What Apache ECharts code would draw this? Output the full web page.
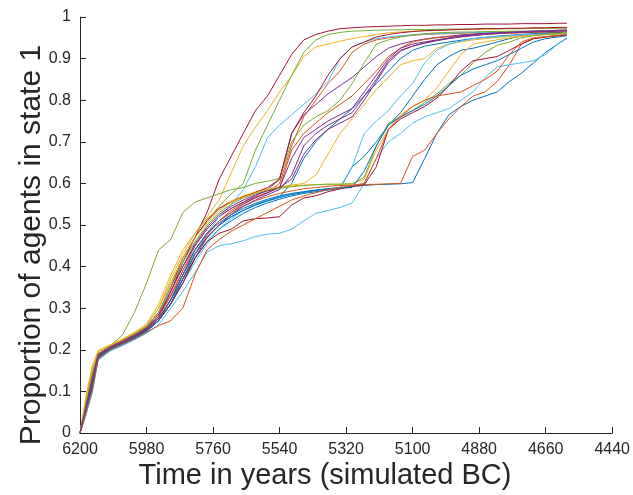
<!DOCTYPE html>
<html>
<head>
<meta charset="utf-8">
<script src="https://cdn.jsdelivr.net/npm/echarts@6/dist/echarts.min.js"></script>
<style>
html,body{margin:0;padding:0;background:#fff;}
#chart{width:633px;height:495px;}
</style>
</head>
<body>
<div id="chart"></div>
<script>
// Shared time axis (years BC)
const years = [6200,6180,6160,6140,6100,6060,6020,5980,5940,5900,5860,5820,5780,5740,5700,5660,5620,5580,5540,5500,5460,5420,5380,5340,5300,5260,5220,5180,5140,5100,5060,5020,4980,4940,4900,4860,4820,4780,4740,4700,4660,4620,4590];
const xTicks = [6200,5980,5760,5540,5320,5100,4880,4660,4440];

// Runs (proportion of agents in state 1)
const runB1 = [0,0.05,0.11,0.18,0.2,0.213,0.228,0.245,0.27,0.31,0.37,0.43,0.47,0.5,0.52,0.535,0.548,0.558,0.568,0.6,0.66,0.7,0.73,0.755,0.78,0.81,0.84,0.87,0.9,0.92,0.93,0.935,0.94,0.944,0.948,0.951,0.954,0.956,0.958,0.96,0.962,0.963,0.964];
const runO1 = [0,0.07,0.14,0.19,0.208,0.22,0.235,0.252,0.28,0.33,0.39,0.45,0.49,0.52,0.54,0.555,0.567,0.578,0.6,0.69,0.76,0.8,0.84,0.87,0.915,0.935,0.945,0.95,0.953,0.956,0.958,0.959,0.96,0.961,0.962,0.962,0.963,0.963,0.964,0.964,0.965,0.965,0.966];
const runY1 = [0,0.09,0.16,0.198,0.212,0.226,0.242,0.262,0.31,0.38,0.44,0.48,0.52,0.56,0.625,0.69,0.735,0.775,0.82,0.858,0.905,0.928,0.935,0.942,0.948,0.953,0.958,0.962,0.964,0.966,0.967,0.968,0.969,0.97,0.97,0.971,0.971,0.972,0.972,0.973,0.973,0.974,0.974];
const runP1 = [0,0.06,0.12,0.185,0.207,0.22,0.234,0.25,0.28,0.34,0.4,0.45,0.49,0.52,0.54,0.555,0.57,0.585,0.61,0.72,0.765,0.79,0.815,0.835,0.855,0.88,0.905,0.925,0.935,0.942,0.947,0.951,0.954,0.957,0.959,0.961,0.963,0.964,0.965,0.966,0.967,0.968,0.968];
const runG1 = [0,0.07,0.14,0.19,0.208,0.222,0.238,0.258,0.3,0.36,0.42,0.47,0.51,0.545,0.575,0.6,0.68,0.74,0.8,0.86,0.915,0.945,0.958,0.963,0.966,0.967,0.968,0.969,0.969,0.97,0.97,0.97,0.971,0.971,0.971,0.972,0.972,0.972,0.972,0.973,0.973,0.973,0.973];
const runC1 = [0,0.05,0.11,0.18,0.202,0.215,0.23,0.248,0.27,0.31,0.37,0.43,0.48,0.52,0.55,0.585,0.64,0.71,0.74,0.765,0.79,0.815,0.845,0.9,0.928,0.94,0.948,0.952,0.955,0.957,0.959,0.96,0.961,0.962,0.963,0.963,0.964,0.964,0.965,0.965,0.966,0.966,0.966];
const runR1 = [0,0.06,0.13,0.19,0.21,0.222,0.236,0.255,0.29,0.35,0.42,0.47,0.53,0.61,0.665,0.72,0.775,0.81,0.86,0.91,0.945,0.958,0.966,0.972,0.974,0.976,0.977,0.978,0.979,0.98,0.98,0.981,0.981,0.982,0.982,0.983,0.983,0.983,0.984,0.984,0.984,0.985,0.985];
const runB2 = [0,0.045,0.1,0.178,0.199,0.212,0.226,0.243,0.27,0.31,0.36,0.42,0.46,0.49,0.51,0.528,0.542,0.553,0.562,0.57,0.576,0.58,0.584,0.588,0.64,0.665,0.7,0.74,0.77,0.81,0.85,0.885,0.905,0.92,0.925,0.932,0.94,0.948,0.955,0.958,0.96,0.962,0.964];
const runO2 = [0,0.065,0.13,0.188,0.207,0.22,0.234,0.252,0.28,0.33,0.38,0.43,0.475,0.51,0.535,0.552,0.566,0.578,0.59,0.68,0.72,0.745,0.77,0.79,0.81,0.84,0.87,0.905,0.925,0.94,0.946,0.95,0.953,0.955,0.957,0.959,0.96,0.961,0.962,0.963,0.964,0.964,0.965];
const runY2 = [0,0.08,0.15,0.195,0.21,0.224,0.24,0.258,0.3,0.37,0.43,0.48,0.515,0.54,0.558,0.57,0.58,0.587,0.592,0.596,0.6,0.62,0.67,0.72,0.755,0.79,0.825,0.855,0.885,0.895,0.9,0.925,0.935,0.94,0.945,0.948,0.951,0.953,0.955,0.957,0.958,0.959,0.96];
const runP2 = [0,0.055,0.115,0.183,0.205,0.218,0.232,0.25,0.275,0.32,0.38,0.44,0.48,0.51,0.53,0.55,0.565,0.577,0.59,0.66,0.71,0.73,0.75,0.765,0.78,0.82,0.86,0.9,0.925,0.935,0.94,0.945,0.95,0.955,0.958,0.96,0.962,0.963,0.964,0.965,0.966,0.967,0.967];
const runG2 = [0,0.06,0.12,0.188,0.21,0.235,0.29,0.36,0.44,0.465,0.53,0.555,0.565,0.575,0.585,0.59,0.6,0.605,0.612,0.7,0.74,0.76,0.775,0.8,0.84,0.89,0.935,0.945,0.952,0.957,0.96,0.962,0.963,0.964,0.964,0.965,0.965,0.966,0.966,0.966,0.967,0.967,0.967];
const runC2 = [0,0.05,0.1,0.178,0.2,0.213,0.228,0.246,0.27,0.31,0.36,0.41,0.455,0.49,0.515,0.535,0.55,0.56,0.568,0.575,0.58,0.584,0.587,0.59,0.64,0.72,0.75,0.775,0.81,0.84,0.89,0.92,0.935,0.942,0.948,0.951,0.953,0.955,0.957,0.958,0.959,0.96,0.961];
const runR2 = [0,0.06,0.12,0.186,0.206,0.219,0.233,0.25,0.28,0.34,0.41,0.47,0.51,0.54,0.555,0.568,0.578,0.59,0.61,0.72,0.77,0.81,0.86,0.9,0.928,0.94,0.952,0.958,0.962,0.965,0.967,0.968,0.969,0.97,0.971,0.972,0.972,0.973,0.973,0.974,0.974,0.975,0.975];
const runB3 = [0,0.05,0.105,0.18,0.2,0.214,0.228,0.245,0.27,0.31,0.37,0.43,0.47,0.5,0.52,0.535,0.548,0.558,0.566,0.573,0.578,0.583,0.587,0.59,0.593,0.595,0.597,0.598,0.599,0.602,0.66,0.72,0.765,0.785,0.8,0.81,0.82,0.845,0.865,0.89,0.915,0.935,0.95];
const runO3 = [0,0.06,0.12,0.185,0.205,0.218,0.233,0.25,0.28,0.33,0.39,0.44,0.48,0.51,0.53,0.545,0.558,0.568,0.576,0.582,0.587,0.59,0.593,0.595,0.596,0.597,0.598,0.599,0.6,0.665,0.68,0.72,0.755,0.785,0.81,0.82,0.845,0.885,0.935,0.948,0.952,0.955,0.957];
const runY3 = [0,0.085,0.155,0.196,0.211,0.225,0.24,0.258,0.3,0.36,0.42,0.47,0.505,0.535,0.555,0.567,0.577,0.585,0.59,0.594,0.596,0.597,0.598,0.598,0.599,0.61,0.68,0.73,0.765,0.785,0.8,0.83,0.87,0.91,0.935,0.94,0.945,0.95,0.953,0.956,0.958,0.96,0.962];
const runP3 = [0,0.06,0.12,0.185,0.206,0.219,0.233,0.25,0.275,0.32,0.37,0.42,0.47,0.5,0.525,0.545,0.56,0.573,0.585,0.62,0.69,0.72,0.74,0.755,0.77,0.81,0.85,0.895,0.92,0.93,0.937,0.943,0.948,0.952,0.955,0.958,0.96,0.962,0.963,0.964,0.965,0.966,0.967];
const runG3 = [0,0.07,0.14,0.19,0.207,0.221,0.236,0.255,0.29,0.35,0.41,0.46,0.5,0.53,0.55,0.565,0.575,0.583,0.588,0.592,0.595,0.597,0.598,0.598,0.599,0.615,0.69,0.745,0.76,0.775,0.795,0.815,0.84,0.86,0.89,0.915,0.932,0.94,0.95,0.955,0.958,0.96,0.962];
const runC3 = [0,0.045,0.095,0.175,0.197,0.21,0.224,0.24,0.26,0.3,0.34,0.385,0.435,0.45,0.455,0.462,0.472,0.478,0.48,0.49,0.51,0.528,0.535,0.542,0.553,0.6,0.66,0.7,0.72,0.745,0.76,0.77,0.78,0.8,0.82,0.855,0.88,0.885,0.89,0.895,0.91,0.935,0.948];
const runR3 = [0,0.055,0.11,0.182,0.203,0.216,0.23,0.248,0.27,0.31,0.36,0.42,0.46,0.48,0.49,0.51,0.515,0.517,0.52,0.548,0.565,0.57,0.58,0.587,0.592,0.597,0.64,0.73,0.755,0.77,0.785,0.805,0.835,0.87,0.895,0.9,0.905,0.92,0.935,0.948,0.952,0.955,0.957];
const runB4 = [0,0.055,0.11,0.182,0.202,0.215,0.229,0.246,0.27,0.32,0.38,0.44,0.48,0.505,0.525,0.54,0.552,0.562,0.57,0.576,0.58,0.584,0.587,0.589,0.59,0.63,0.69,0.74,0.76,0.775,0.79,0.81,0.835,0.86,0.875,0.885,0.895,0.91,0.925,0.94,0.948,0.952,0.955];
const runO4 = [0,0.05,0.1,0.178,0.2,0.213,0.226,0.242,0.258,0.27,0.3,0.38,0.44,0.465,0.485,0.5,0.515,0.53,0.545,0.56,0.57,0.578,0.585,0.59,0.595,0.6,0.66,0.73,0.76,0.785,0.8,0.81,0.815,0.82,0.835,0.85,0.87,0.91,0.94,0.95,0.953,0.956,0.958];
const runP4 = [0,0.065,0.13,0.188,0.207,0.22,0.235,0.252,0.285,0.34,0.4,0.455,0.495,0.525,0.545,0.56,0.572,0.582,0.59,0.61,0.67,0.705,0.73,0.745,0.76,0.8,0.845,0.89,0.918,0.93,0.938,0.944,0.949,0.953,0.956,0.959,0.961,0.963,0.965,0.966,0.967,0.968,0.969];

const BLUE='#0072BD', ORANGE='#D95319', YELLOW='#EDB120', PURPLE='#7E2F8E', GREEN='#77AC30', CYAN='#4DBEEE', RED='#A2142F';
const runs = [
  [runB1,BLUE],[runO1,ORANGE],[runY1,YELLOW],[runP1,PURPLE],[runG1,GREEN],[runC1,CYAN],[runR1,RED],
  [runB2,BLUE],[runO2,ORANGE],[runY2,YELLOW],[runP2,PURPLE],[runG2,GREEN],[runC2,CYAN],[runR2,RED],
  [runB3,BLUE],[runO3,ORANGE],[runY3,YELLOW],[runP3,PURPLE],[runG3,GREEN],[runC3,CYAN],[runR3,RED],
  [runB4,BLUE],[runO4,ORANGE],[runP4,PURPLE]
];

const FONT = '"Liberation Sans", Arial, Helvetica, sans-serif';
const AX = '#262626';

const chart = echarts.init(document.getElementById('chart'), null, {renderer:'canvas'});
chart.setOption({
  animation:false,
  backgroundColor:'#fff',
  grid:{left:80, right:15, top:17, bottom:62, containLabel:false},
  xAxis:{
    type:'value', inverse:true, min:4440, max:6200,
    axisLine:{show:true, onZero:false, lineStyle:{color:AX, width:1}},
    axisTick:{show:true, inside:true, length:6, lineStyle:{color:AX}, customValues:xTicks},
    axisLabel:{show:true, customValues:xTicks, margin:9, fontSize:16, color:AX, fontFamily:FONT, formatter:v=>String(v)},
    splitLine:{show:false}
  },
  yAxis:{
    type:'value', min:0, max:1, interval:0.1,
    axisLine:{show:true, lineStyle:{color:AX, width:1}},
    axisTick:{show:true, inside:true, length:6, lineStyle:{color:AX}},
    axisLabel:{margin:9, fontSize:16, color:AX, fontFamily:FONT},
    splitLine:{show:false}
  },
  graphic:[
    {type:'text', x:32, y:245, rotation:Math.PI/2,
     style:{text:'Proportion of agents in state 1', font:'30px '+FONT, fill:AX, textAlign:'center', textVerticalAlign:'middle'}},
    {type:'text', x:325, y:476,
     style:{text:'Time in years (simulated BC)', font:'29px '+FONT, fill:AX, textAlign:'center', textVerticalAlign:'middle'}}
  ],
  series: runs.map(([arr,col],k)=>({
    type:'line', name:'run'+(k+1), showSymbol:false, symbol:'none',
    lineStyle:{width:1, color:col}, itemStyle:{color:col},
    data: years.map((yr,i)=>[yr, arr[i]])
  }))
});
</script>
</body>
</html>
